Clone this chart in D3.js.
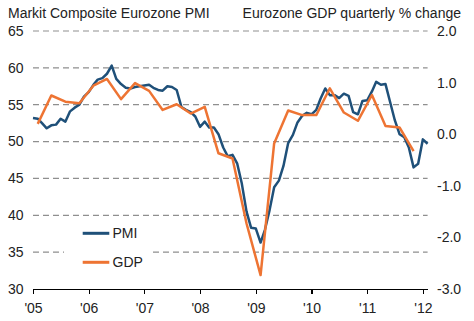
<!DOCTYPE html>
<html>
<head>
  <title>Markit Composite Eurozone PMI vs GDP</title>
  <script src="https://d3js.org/d3.v7.min.js"></script>
  <style>
    body { margin: 0; background: #fff; }
    svg text {
      font-family: "Liberation Sans", Arial, sans-serif;
      font-size: 14px;
      fill: #222;
    }
    .grid line {
      stroke: #8f8f8f;
      stroke-width: 1.2px;
      stroke-dasharray: 6, 4;
    }
    .x.axis path,
    .x.axis line {
      stroke: #000;
      stroke-width: 1.3px;
      shape-rendering: crispEdges;
    }
  </style>
</head>
<body>
  <div id="chart"></div>

  <script>
    // Monthly PMI, Jan 2005 .. Feb 2012
    const pmiStart = [2005, 0];
    const pmi = [
      53.2, 53.1, 52.5, 51.8, 52.2, 52.3, 53.1, 52.7, 54.1, 54.6, 55.0, 56.1,
      56.7, 57.7, 58.4, 58.6, 59.2, 60.3, 58.5, 57.8, 57.3, 57.2, 57.4, 57.5,
      57.6, 57.7, 57.3, 57.0, 56.9, 57.5, 57.4, 57.0, 54.7, 54.3, 54.0, 53.4,
      52.0, 52.7, 51.9, 51.9, 51.0, 49.2, 48.0, 48.2, 47.0, 44.3, 40.5, 38.3,
      38.2, 36.3, 38.0, 40.7, 43.8, 44.7, 46.7, 49.8, 50.9, 52.6, 53.5, 53.9,
      53.7, 54.3, 55.8, 57.2, 56.3, 56.3, 55.9, 56.5, 56.2, 54.0, 53.7, 55.5,
      55.6, 56.8, 58.1, 57.7, 57.8, 55.3, 52.9, 51.0, 50.6, 49.2, 46.5, 47.0,
      50.3, 49.7
    ];

    // Quarterly GDP % change, Q1 2005 .. Q4 2011 (plotted mid-quarter)
    const gdp = [
      0.20, 0.75, 0.63, 0.60,
      0.94, 1.07, 0.68, 0.99,
      0.84, 0.47, 0.58, 0.40,
      0.53, -0.37, -0.47, -1.73,
      -2.73, -0.18, 0.46, 0.37,
      0.37, 0.89, 0.42, 0.26,
      0.76, 0.16, 0.13, -0.33
    ];

    const leftTicks = [30, 35, 40, 45, 50, 55, 60, 65];
    const rightTicks = [-3, -2, -1, 0, 1, 2];
    const years = [2005, 2006, 2007, 2008, 2009, 2010, 2011, 2012];
    const legendItems = ["PMI", "GDP"];
    const leftTitle = "Markit Composite Eurozone PMI";
    const rightTitle = "Eurozone GDP quarterly % change";

    const width = 474, height = 321;
    const plot = { left: 33, right: 427.6, top: 31, bottom: 289 };
    const colors = { PMI: "#1f5079", GDP: "#ee7433" };

    const pmiData = pmi.map((v, i) => ({ date: new Date(pmiStart[0], pmiStart[1] + i, 1), value: v }));
    const gdpData = gdp.map((v, i) => ({ date: new Date(2005, i * 3 + 1, 1), value: v }));

    const svg = d3.select("#chart")
      .append("svg")
        .attr("width", width)
        .attr("height", height);

    svg.append("rect")
      .attr("width", width)
      .attr("height", height)
      .attr("fill", "#fff");

    // Scales
    const x = d3.scaleTime()
      .domain([new Date(2005, 0, 1), new Date(2012, 1, 1)])
      .range([plot.left, plot.right]);
    const yLeft = d3.scaleLinear().domain([30, 65]).range([plot.bottom, plot.top]);
    const yRight = d3.scaleLinear().domain([-3, 2]).range([plot.bottom, plot.top]);

    // Gridlines (left axis values, except the baseline)
    svg.append("g")
      .attr("class", "grid")
      .selectAll("line")
      .data(leftTicks.filter(d => d > 30))
      .join("line")
        .attr("x1", plot.left)
        .attr("x2", plot.right)
        .attr("y1", d => yLeft(d))
        .attr("y2", d => yLeft(d));

    // Left tick labels
    svg.append("g")
      .selectAll("text")
      .data(leftTicks)
      .join("text")
        .attr("x", 8)
        .attr("y", d => yLeft(d))
        .attr("dy", "0.35em")
        .text(d => d);

    // Right tick labels
    svg.append("g")
      .selectAll("text")
      .data(rightTicks)
      .join("text")
        .attr("x", 437)
        .attr("y", d => yRight(d))
        .attr("dy", "0.35em")
        .text(d => d.toFixed(1));

    // Titles
    svg.append("text")
      .attr("x", 8)
      .attr("y", 18)
      .text(leftTitle);

    svg.append("text")
      .attr("x", 461)
      .attr("y", 18)
      .attr("text-anchor", "end")
      .text(rightTitle);

    // Bottom axis
    const xAxis = d3.axisBottom(x)
      .tickValues(years.map(y => new Date(y, 0, 1)))
      .tickFormat(d3.timeFormat("'%y"))
      .tickSizeInner(5)
      .tickSizeOuter(0);

    const gx = svg.append("g")
      .attr("class", "x axis")
      .attr("transform", `translate(0, ${plot.bottom})`)
      .call(xAxis);
    gx.selectAll("text")
      .attr("y", 14)
      .attr("dy", "0.71em")
      .attr("fill", "#222")
      .style("font-size", "14px")
      .style("font-family", "\"Liberation Sans\", Arial, sans-serif");

    // Legend box (white, hides the gridline behind it)
    const legend = svg.append("g");
    legend.append("rect")
      .attr("x", 64)
      .attr("y", 222)
      .attr("width", 86)
      .attr("height", 52)
      .attr("fill", "#fff");

    legendItems.forEach((name, i) => {
      const ly = 233.3 + i * 29;
      legend.append("line")
        .attr("x1", 82.7)
        .attr("x2", 109.3)
        .attr("y1", ly)
        .attr("y2", ly)
        .attr("stroke", colors[name])
        .attr("stroke-width", 3);
      legend.append("text")
        .attr("x", 112.5)
        .attr("y", ly)
        .attr("dy", "0.35em")
        .text(name);
    });

    // Lines
    const pmiLine = d3.line()
      .x(d => x(d.date))
      .y(d => yLeft(d.value));
    const gdpLine = d3.line()
      .x(d => x(d.date))
      .y(d => yRight(d.value));

    svg.append("path")
      .datum(pmiData)
      .attr("fill", "none")
      .attr("stroke", colors.PMI)
      .attr("stroke-width", 2.5)
      .attr("stroke-linejoin", "round")
      .attr("d", pmiLine);

    svg.append("path")
      .datum(gdpData)
      .attr("fill", "none")
      .attr("stroke", colors.GDP)
      .attr("stroke-width", 2.5)
      .attr("stroke-linejoin", "round")
      .attr("d", gdpLine);
  </script>
</body>
</html>
